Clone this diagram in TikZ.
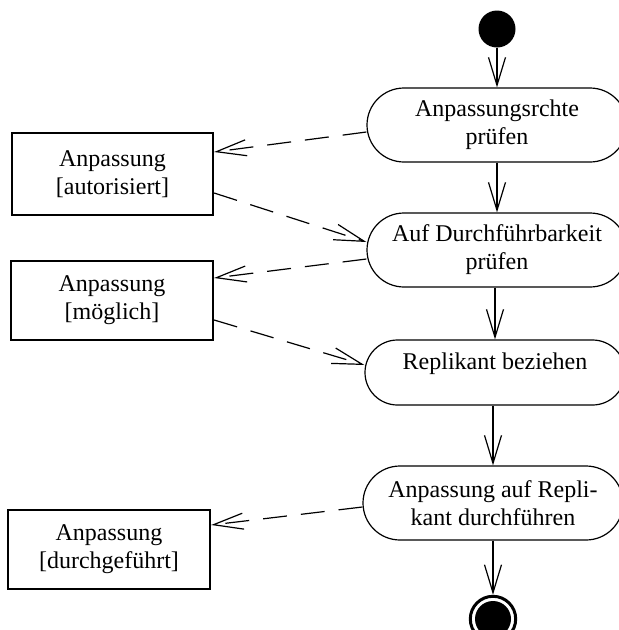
\documentclass[tikz,border=0pt]{standalone}
\usepackage{fontspec}
\setmainfont{Liberation Serif}
\usetikzlibrary{arrows.meta}
\begin{document}
\begin{tikzpicture}[x=1pt,y=-1pt,
  labelfont/.style={font=\fontsize{24}{28}\selectfont},
  activity/.style={draw, line width=1.2pt, rounded corners=37pt,
    minimum width=260pt, minimum height=74pt, align=center,
    inner sep=0pt, labelfont},
  objbox/.style={draw, line width=2.2pt, minimum width=201pt,
    minimum height=80pt, align=center, inner sep=0pt, labelfont},
  flow/.style={line width=1.4pt,
    -{Straight Barb[length=28pt,width=17pt,line width=1.2pt]}},
  objflow/.style={line width=1.2pt, dash pattern=on 24pt off 14pt,
    -{Straight Barb[length=30pt,width=16pt,line width=1.2pt]}},
]
\useasboundingbox (0,0) rectangle (619,630);

% initial and final states
\node[circle, fill, minimum size=37pt, inner sep=0pt] (start) at (497,29) {};
\node[circle, draw, line width=3pt, minimum size=45.4pt, inner sep=0pt] (stop) at (493,619) {};
\node[circle, fill, minimum size=36pt, inner sep=0pt] (stopdot) at (stop.center) {};

% activities
\node[activity] (act1) at (497,125) {Anpassungsrchte\\prüfen};
\node[activity] (act2) at (497,250) {Auf Durchführbarkeit\\prüfen};
\node[activity, minimum height=65pt, rounded corners=32.5pt] (act3) at (495,372.5) {};
\node[labelfont, anchor=base, inner sep=0pt] (act3text) at (495,369) {Replikant beziehen};
\node[activity] (act4) at (493,503) {Anpassung auf Repli-\\kant durchführen};

% object states
\node[objbox, minimum height=82pt] (box1) at (112.5,174) {Anpassung\\{[autorisiert]}};
\node[objbox, minimum width=202pt, minimum height=79pt] (box2) at (112,300.5) {Anpassung\\{[möglich]}};
\node[objbox, minimum width=202pt, minimum height=79pt] (box3) at (109,549.5) {Anpassung\\{[durchgeführt]}};

% control flow
\draw[flow] (start) -- (act1);
\draw[flow] (act1) -- (act2);
\draw[flow] (act3.north |- act2.south) -- (act3.north);
\draw[flow] (act4.north |- act3.south) -- (act4.north);
\draw[flow] (act4) -- (stop);

% object flow
\draw[objflow] ([yshift=-7pt]act1.west) -- ([yshift=22pt]box1.east);
\draw[objflow] ([yshift=-19pt]box1.east) -- ([yshift=8pt]act2.west);
\draw[objflow] ([yshift=-9pt]act2.west) -- ([yshift=22.5pt]box2.east);
\draw[objflow] ([yshift=-19.5pt]box2.east) -- ([yshift=7.5pt]act3.west);
\draw[objflow] ([yshift=-4pt]act4.west) -- ([yshift=24.5pt]box3.east);
\end{tikzpicture}
\end{document}
